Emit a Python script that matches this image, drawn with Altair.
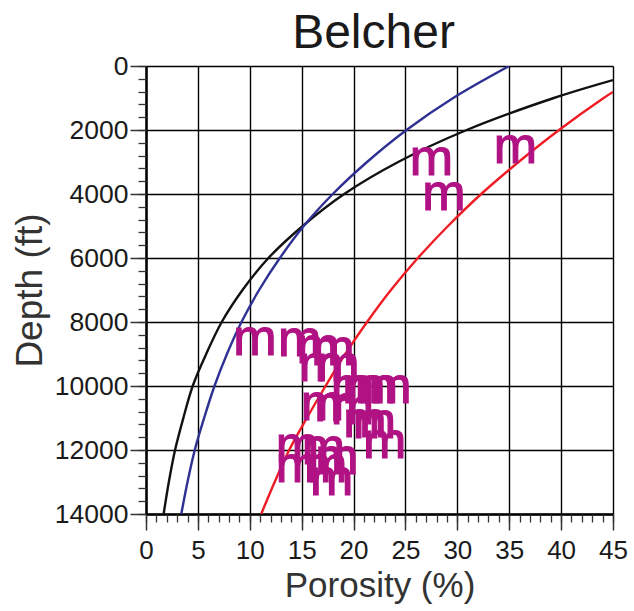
import altair as alt
import pandas as pd

# Porosity-depth trend curves (depth in ft, porosity in %)
black_depth = [440, 1000, 2000, 3000, 4000, 5000, 6000, 7000, 8000, 9000, 10000, 11000, 12000, 13000, 14000]
black_por = [45.0, 39.3, 30.9, 24.3, 19.1, 15.1, 11.8, 9.3, 7.3, 5.8, 4.5, 3.6, 2.8, 2.2, 1.7]

blue_depth = [0, 1000, 2000, 3000, 4000, 5000, 6000, 7000, 8000, 9000, 10000, 11000, 12000, 13000, 14000]
blue_por = [35.0, 29.6, 25.1, 21.3, 18.0, 15.2, 12.9, 10.9, 9.2, 7.8, 6.6, 5.6, 4.7, 4.0, 3.4]

red_depth = [810, 1000, 2000, 3000, 4000, 5000, 6000, 7000, 8000, 9000, 10000, 11000, 12000, 13000, 14000]
red_por = [45.0, 44.1, 39.8, 35.9, 32.3, 29.1, 26.2, 23.6, 21.3, 19.2, 17.3, 15.5, 13.8, 12.4, 11.1]

# Measured samples from the Belcher well
sample_por = [10.5, 14.8, 16.6, 18.0, 16.8, 18.5, 19.9, 21.0, 22.2, 23.5, 17.0, 18.3, 19.9,
              21.1, 22.0, 23.0, 14.6, 17.1, 18.4, 14.6, 17.3, 17.9, 27.5, 28.7, 35.6]
sample_depth = [8550, 8580, 8800, 8890, 9360, 9390, 10050, 10050, 10050, 10050, 10580, 10640, 10730,
                11110, 11170, 11770, 11920, 11980, 12270, 12520, 12520, 12950, 2950, 4020, 2550]

x_major = list(range(0, 50, 5))
x_minor = list(range(0, 46, 1))
y_major = list(range(0, 14001, 2000))
y_minor = list(range(0, 14001, 400))

FONT = "Liberation Sans"
TEXT = "#1a1a1a"

curves = pd.concat([
    pd.DataFrame({"curve": "black", "depth": black_depth, "por": black_por}),
    pd.DataFrame({"curve": "blue", "depth": blue_depth, "por": blue_por}),
    pd.DataFrame({"curve": "red", "depth": red_depth, "por": red_por}),
])
samples = pd.DataFrame({"por": sample_por, "depth": sample_depth})

xscale = alt.Scale(domain=[0, 45], nice=False, zero=False)
yscale = alt.Scale(domain=[0, 14000], nice=False, zero=False, reverse=True)

x_axis = alt.Axis(values=x_major, orient="bottom", title="Porosity (%)", grid=True, format="d",
                  gridColor="black", gridWidth=1.4, domainColor="black", domainWidth=2.5,
                  tickColor="#333333", tickSize=16, tickWidth=1.5, labelFontSize=26,
                  labelFont=FONT, labelColor=TEXT, labelPadding=7, labelFlush=False,
                  titleFont=FONT, titleFontSize=35, titleFontWeight="normal",
                  titleColor="#333333", titlePadding=5)
y_axis = alt.Axis(values=y_major, orient="left", title="Depth (ft)", grid=True, format="d",
                  gridColor="black", gridWidth=1.4, domainColor="black", domainWidth=2.5,
                  tickColor="#333333", tickSize=16, tickWidth=1.5, labelFontSize=26.5,
                  labelFont=FONT, labelColor=TEXT, labelPadding=2, labelFlush=False,
                  titleFont=FONT, titleFontSize=37, titleFontWeight="normal",
                  titleColor="#333333", titlePadding=5)

lines = alt.Chart(curves).mark_line(clip=True, interpolate="catmull-rom", strokeWidth=2.4).encode(
    x=alt.X("por:Q", scale=xscale, axis=x_axis),
    y=alt.Y("depth:Q", scale=yscale, axis=y_axis),
    order="depth:Q",
    detail="curve:N",
    color=alt.Color("curve:N", legend=None,
                    scale=alt.Scale(domain=["black", "blue", "red"],
                                    range=["#111111", "#2E3192", "#EE1C24"])),
)

# minor ticks drawn as label-less axes on the same scales
minor = alt.Chart(samples).mark_point(opacity=0).encode(
    x=alt.X("por:Q", scale=xscale,
            axis=alt.Axis(values=x_minor, orient="bottom", title=None, labels=False, grid=False,
                          domain=False, tickColor="#333333", tickSize=8, tickWidth=1.3)),
    y=alt.Y("depth:Q", scale=yscale,
            axis=alt.Axis(values=y_minor, orient="left", title=None, labels=False, grid=False,
                          domain=False, tickColor="#333333", tickSize=8, tickWidth=1.3)),
)

marks = alt.Chart(samples).mark_text(text="m", font=FONT, fontSize=52, color="#B01284",
                                     stroke="#B01284", strokeWidth=1.2,
                                     align="center", baseline="middle", dy=-1).encode(
    x=alt.X("por:Q", scale=xscale, axis=None),
    y=alt.Y("depth:Q", scale=yscale, axis=None),
)

chart = alt.layer(lines, minor, marks).resolve_axis(x="independent", y="independent").properties(
    width=467, height=448,
    autosize=alt.AutoSizeParams(type="none"),
    padding={"left": 146, "top": 66, "right": 21, "bottom": 97},
    title=alt.Title("Belcher", font=FONT, fontSize=48, fontWeight="normal", color=TEXT,
                    anchor="middle", offset=14, dx=-6, dy=19),
).configure_view(strokeWidth=0).configure(background="white")

chart.save("out.html", embed_options={"renderer": "svg", "actions": False})
